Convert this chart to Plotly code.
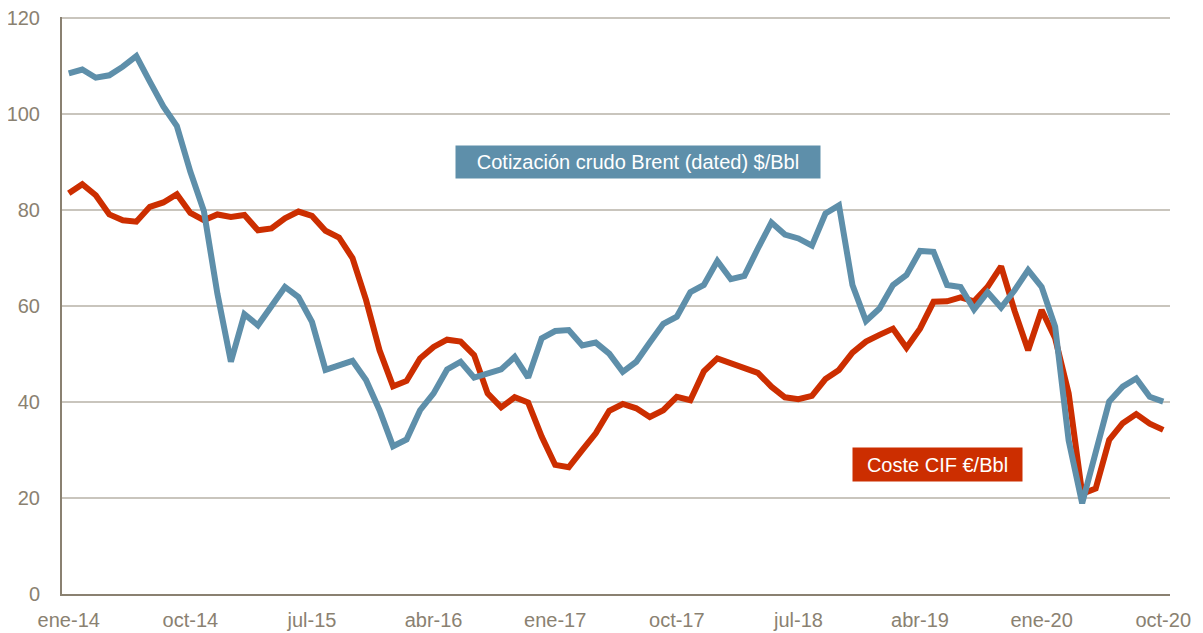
import plotly.graph_objects as go

# meses ene-14 ... oct-20
meses_abrev = ["ene", "feb", "mar", "abr", "may", "jun",
               "jul", "ago", "sep", "oct", "nov", "dic"]
meses = [f"{m}-{a}" for a in range(14, 21) for m in meses_abrev][:82]

brent = [108.5, 109.3, 107.6, 108.1, 109.9, 112.1, 106.8, 101.6, 97.5, 88.0,
         79.8, 62.6, 48.4, 58.3, 56.0, 59.9, 64.0, 61.9, 56.7, 46.7,
         47.7, 48.6, 44.6, 38.3, 30.8, 32.2, 38.3, 41.8, 46.8, 48.4,
         45.1, 45.8, 46.8, 49.4, 45.1, 53.3, 54.8, 55.0, 51.8, 52.4,
         50.1, 46.3, 48.4, 52.4, 56.3, 57.8, 62.9, 64.4, 69.4, 65.6,
         66.3, 72.0, 77.4, 74.9, 74.1, 72.6, 79.3, 81.0, 64.4, 56.9,
         59.5, 64.4, 66.5, 71.5, 71.3, 64.4, 64.0, 59.3, 62.9, 59.7,
         63.3, 67.5, 64.0, 55.7, 32.0, 18.9, 30.0, 40.1, 43.2, 44.9,
         41.1, 40.1]

coste_cif = [83.5, 85.4, 83.1, 79.1, 77.9, 77.6, 80.7, 81.6, 83.3, 79.4,
             77.9, 79.1, 78.6, 79.0, 75.8, 76.2, 78.3, 79.7, 78.8, 75.7,
             74.3, 70.0, 61.3, 50.8, 43.3, 44.4, 49.1, 51.5, 53.0, 52.6,
             49.8, 41.8, 38.9, 41.0, 39.9, 32.8, 26.9, 26.4, 30.0, 33.5,
             38.2, 39.6, 38.7, 36.9, 38.3, 41.1, 40.4, 46.4, 49.1, 48.1,
             47.4, 46.1, 43.2, 41.0, 40.6, 41.3, 44.8, 46.7, 50.3, 52.6,
             54.0, 55.3, 51.3, 55.3, 60.9, 61.0, 61.8, 61.0, 64.0, 68.3,
             59.0, 50.8, 59.2, 53.3, 41.8, 20.9, 22.0, 32.1, 35.6, 37.5,
             35.5, 34.2]

tick_meses = meses[::9]

azul = "#5E8FAA"
rojo = "#CC2E00"
gris_eje = "#8A8171"

fig = go.Figure()
fig.add_trace(go.Scatter(x=meses, y=coste_cif, mode="lines",
                         line=dict(color=rojo, width=6),
                         name="Coste CIF €/Bbl"))
fig.add_trace(go.Scatter(x=meses, y=brent, mode="lines",
                         line=dict(color=azul, width=6),
                         name="Cotización crudo Brent (dated) $/Bbl"))

# la página tiene 8px de margen en el body, de ahí el tamaño 1195x625
fig.update_layout(
    width=1195, height=625,
    margin=dict(l=54, r=33, t=9, b=39),
    plot_bgcolor="white", paper_bgcolor="white",
    showlegend=False,
    font=dict(family="Liberation Sans, Arial, sans-serif", size=20, color=gris_eje),
    xaxis=dict(type="category", range=[-0.5, 81.5], automargin=False,
               tickvals=tick_meses, ticktext=tick_meses,
               showgrid=False, showline=True, linecolor=gris_eje, linewidth=2,
               ticks="", ticklabelstandoff=7, tickfont=dict(size=20, color=gris_eje)),
    # rango un poco por encima de 120 para que se dibuje la rejilla superior
    yaxis=dict(range=[0, 120.25], tickvals=[0, 20, 40, 60, 80, 100, 120], automargin=False,
               showgrid=True, gridcolor="#C9C5BD", gridwidth=2,
               showline=True, linecolor=gris_eje, linewidth=2,
               zeroline=False, ticks="", ticklabelstandoff=16,
               ticklabeloverflow="allow",
               tickfont=dict(size=20, color=gris_eje)),
)

fig.add_annotation(x=42.1, y=90, xref="x", yref="y",
                   text="Cotización crudo Brent (dated) $/Bbl", showarrow=False,
                   font=dict(size=20, color="white"), bgcolor=azul,
                   width=360, height=28, borderpad=2)
fig.add_annotation(x=64.3, y=27.0, xref="x", yref="y",
                   text="Coste CIF €/Bbl", showarrow=False,
                   font=dict(size=20, color="white"), bgcolor=rojo,
                   width=165, height=29, borderpad=2)

fig.write_html("out.html")
